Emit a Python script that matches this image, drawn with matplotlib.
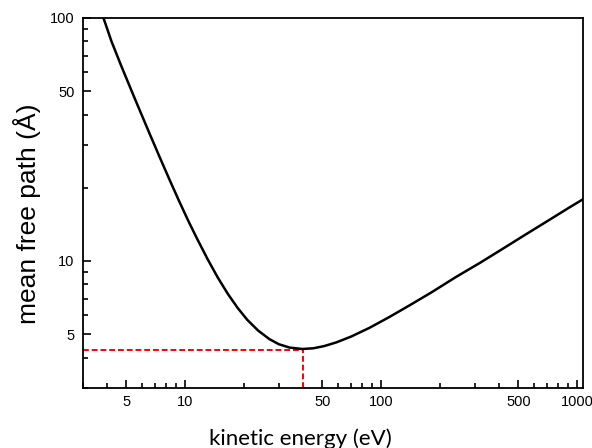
import matplotlib
matplotlib.use("Agg")
import matplotlib.pyplot as plt
from matplotlib.ticker import FixedLocator, NullFormatter

# Data (kinetic energy in eV, mean free path in Angstrom)
energy = [3.82, 4.2, 4.7, 5.3, 5.62, 6.6, 7.4, 8.3, 9.3, 10.4, 11.5, 13.0,
          14.6, 16.5, 18.5, 20.7, 23.5, 26.8, 30.0, 34.0, 39.5, 45.0, 51.0,
          58.9, 70.0, 86.8, 110.0, 140.0, 180.0, 241.0, 320.0, 420.0, 524.0,
          700.0, 900.0, 1070.0]
mfp = [100.0, 80.0, 63.7, 50.4, 45.0, 33.1, 26.7, 21.6, 17.6, 14.5, 12.3, 10.15,
       8.57, 7.30, 6.40, 5.72, 5.17, 4.77, 4.54, 4.40, 4.34, 4.37, 4.46,
       4.62, 4.88, 5.30, 5.88, 6.58, 7.42, 8.60, 9.84, 11.27, 12.6,
       14.55, 16.5, 17.95]

# Minimum of the curve, marked with the red guide lines
min_energy = 40.0
min_mfp = 4.3

x_ticks = [5, 10, 50, 100, 500, 1000]
x_ticklabels = ['5', '10', '50', '100', '500', '1000']
y_ticks = [5, 10, 50, 100]
y_ticklabels = ['5', '10', '50', '100']

plt.rcParams['font.family'] = ['Liberation Sans', 'DejaVu Sans']

fig = plt.figure(figsize=(5.92, 4.48), dpi=100)
ax = fig.add_axes([0.140, 0.134, 0.845, 0.826])

ax.plot(energy, mfp, color='black', lw=1.8, zorder=3)

# red dashed guides to the minimum
ax.plot([3, min_energy], [min_mfp, min_mfp], color='red', lw=1.4,
        linestyle=(0, (3, 1.5)), zorder=2)
ax.plot([min_energy, min_energy], [3, min_mfp], color='red', lw=1.4,
        linestyle=(0, (3, 1.5)), zorder=2)

ax.set_xscale('log')
ax.set_yscale('log')
ax.set_xlim(3, 1070)
ax.set_ylim(3, 100)

ax.xaxis.set_major_locator(FixedLocator(x_ticks))
ax.set_xticklabels(x_ticklabels)
ax.yaxis.set_major_locator(FixedLocator(y_ticks))
ax.set_yticklabels(y_ticklabels)
ax.xaxis.set_minor_formatter(NullFormatter())
ax.yaxis.set_minor_formatter(NullFormatter())

ax.tick_params(which='both', direction='in', top=False, right=False,
               labelsize=10.5, width=1.2)
ax.tick_params(which='major', length=6)
ax.tick_params(which='minor', length=3.5)
ax.tick_params(axis='x', pad=5)
ax.tick_params(axis='y', pad=6)

for sp in ax.spines.values():
    sp.set_linewidth(1.3)

ax.set_xlabel('kinetic energy (eV)', fontsize=16, family=['Lato', 'DejaVu Sans'])
ax.xaxis.set_label_coords(0.434, -0.11)
ax.set_ylabel('mean free path (Å)', fontsize=19)
ax.yaxis.set_label_coords(-0.084, 0.47)

fig.savefig('out.png', dpi=100)
